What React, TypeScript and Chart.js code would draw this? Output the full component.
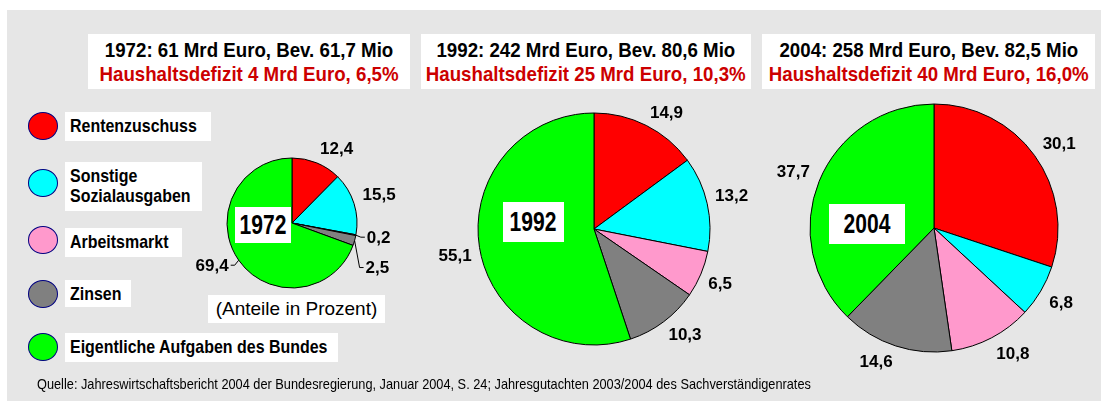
import React, { useEffect, useRef } from "react";
import { Chart, registerables } from "chart.js";

Chart.register(...registerables);

// ---------- data ----------
const categories = [
  "Rentenzuschuss",
  "Sonstige\nSozialausgaben",
  "Arbeitsmarkt",
  "Zinsen",
  "Eigentliche Aufgaben des Bundes",
];
const years = ["1972", "1992", "2004"];
const shares1972 = [12.4, 15.5, 0.2, 2.5, 69.4];
const shares1992 = [14.9, 13.2, 6.5, 10.3, 55.1];
const shares2004 = [30.1, 6.8, 10.8, 14.6, 37.7];
const titleLines = [
  "1972: 61 Mrd Euro, Bev. 61,7 Mio",
  "1992: 242 Mrd Euro, Bev. 80,6 Mio",
  "2004: 258 Mrd Euro, Bev. 82,5 Mio",
];
const deficitLines = [
  "Haushaltsdefizit 4 Mrd Euro, 6,5%",
  "Haushaltsdefizit 25 Mrd Euro, 10,3%",
  "Haushaltsdefizit 40 Mrd Euro, 16,0%",
];
const unitNote = "(Anteile in Prozent)";
const sourceNote =
  "Quelle: Jahreswirtschaftsbericht 2004 der Bundesregierung, Januar 2004, S. 24; Jahresgutachten 2003/2004 des Sachverständigenrates";

// ---------- styles / layout ----------
const sliceColors = ["#FF0000", "#00FFFF", "#FF99CC", "#808080", "#00FF00"];
const W = 1101;
const H = 401;
const SANS = '"Liberation Sans", Arial, sans-serif';

const pieLayout = [
  { cx: 292, cy: 223, r: 65, gap: 9, leaders: { 2: [5, 2], 3: [5, 27], 4: [-4, 5] } as Record<number, number[]>, box: { dx: -57, dy: -16, w: 56, h: 36 } },
  { cx: 594, cy: 229, r: 116, gap: 8, leaders: {} as Record<number, number[]>, box: { dx: -91, dy: -27, w: 61, h: 40 } },
  { cx: 934, cy: 228, r: 124, gap: 10, leaders: {} as Record<number, number[]>, box: { dx: -105, dy: -24, w: 76, h: 40 } },
];
const titleBoxes = [
  { left: 88, width: 322 },
  { left: 421, width: 330 },
  { left: 762, width: 333 },
];
const legendRows = [
  { cy: 126, boxTop: 112, boxH: 29, boxW: 146 },
  { cy: 183, boxTop: 162, boxH: 49, boxW: 137 },
  { cy: 240, boxTop: 228, boxH: 29, boxW: 117 },
  { cy: 294, boxTop: 280, boxH: 27, boxW: 66 },
  { cy: 347, boxTop: 333, boxH: 29, boxW: 273 },
];

const fmt = (v: number) => v.toFixed(1).replace(".", ",");

const valueLabelPlugin = {
  id: "valueLabels",
  afterDatasetsDraw(chart: any, _args: any, opts: any) {
    const ctx = chart.ctx as CanvasRenderingContext2D;
    const meta = chart.getDatasetMeta(0);
    const data = chart.data.datasets[0].data as number[];
    ctx.save();
    ctx.font = `bold 17px ${SANS}`;
    ctx.fillStyle = "#000";
    ctx.strokeStyle = "#000";
    ctx.lineWidth = 1;
    const capH = 12.5;
    meta.data.forEach((arc: any, i: number) => {
      const { x, y, startAngle, endAngle, outerRadius } = arc.getProps(
        ["x", "y", "startAngle", "endAngle", "outerRadius"],
        true
      );
      const mid = (startAngle + endAngle) / 2;
      const cos = Math.cos(mid);
      const sin = Math.sin(mid);
      const text = fmt(data[i]);
      const leader = opts.leaders ? opts.leaders[i] : undefined;
      if (leader) {
        const ex = x + outerRadius * cos;
        const ey = y + outerRadius * sin;
        const bx = ex + leader[0];
        const by = ey + leader[1];
        const dir = leader[0] >= 0 ? 1 : -1;
        ctx.beginPath();
        ctx.moveTo(ex, ey);
        ctx.lineTo(bx, by);
        ctx.lineTo(bx + dir * 4, by);
        ctx.stroke();
        ctx.textAlign = dir > 0 ? "left" : "right";
        ctx.textBaseline = "middle";
        ctx.fillText(text, bx + dir * 6, by + 1);
      } else {
        const d = outerRadius + opts.gap;
        const ax = x + d * cos;
        const ay = y + d * sin;
        ctx.textAlign = cos >= 0 ? "left" : "right";
        ctx.textBaseline = "middle";
        ctx.fillText(text, ax, ay + ((sin >= 0 ? 1 : -1) * capH) / 2 + 1);
      }
    });
    ctx.restore();
  },
};

function PieCanvas({ values, idx }: { values: number[]; idx: number }) {
  const ref = useRef<HTMLCanvasElement | null>(null);
  useEffect(() => {
    if (!ref.current) return;
    const L = pieLayout[idx];
    const side = 2 * L.r + 1;
    const chart = new Chart(ref.current, {
      type: "pie",
      data: {
        labels: categories,
        datasets: [
          {
            data: values,
            backgroundColor: sliceColors,
            borderColor: "#000000",
            borderWidth: 1,
          },
        ],
      },
      options: {
        responsive: false,
        animation: false,
        events: [],
        layout: {
          padding: {
            left: L.cx - side / 2,
            top: L.cy - side / 2,
            right: W - (L.cx + side / 2),
            bottom: H - (L.cy + side / 2),
          },
        },
        plugins: {
          legend: { display: false },
          tooltip: { enabled: false },
          valueLabels: { gap: L.gap, leaders: L.leaders },
        } as any,
      },
      plugins: [valueLabelPlugin],
    });
    return () => chart.destroy();
  }, [values, idx]);
  return (
    <canvas
      ref={ref}
      width={W}
      height={H}
      style={{ position: "absolute", left: 0, top: 0, width: W, height: H }}
    />
  );
}

// condensed text (no narrow font installed): horizontally squeezed span
function Narrow({ children, scale, origin }: { children: React.ReactNode; scale: number; origin: string }) {
  return (
    <span style={{ display: "inline-block", transform: `scaleX(${scale})`, transformOrigin: origin, whiteSpace: "pre", flex: "none" }}>
      {children}
    </span>
  );
}

const centerRow: React.CSSProperties = { display: "flex", justifyContent: "center", width: "100%" };

export default function App() {
  useEffect(() => {
    document.body.style.margin = "0";
  }, []);
  const allShares = [shares1972, shares1992, shares2004];
  return (
    <div style={{ position: "absolute", left: 0, top: 0, width: W, height: H, background: "#FFFFFF", overflow: "hidden" }}>
      <div style={{ position: "absolute", left: 7, top: 10, width: W - 7, height: H - 10, background: "#E6E6E6" }} />

      {titleBoxes.map((b, i) => (
        <div
          key={"t" + i}
          style={{
            position: "absolute",
            left: b.left,
            top: 34,
            width: b.width,
            height: 55,
            background: "#FFFFFF",
            fontFamily: SANS,
            fontWeight: "bold",
            fontSize: 21,
            lineHeight: "24px",
            paddingTop: 4,
            boxSizing: "border-box",
            whiteSpace: "nowrap",
          }}
        >
          <div style={{ ...centerRow, color: "#000000" }}>
            <Narrow scale={0.89} origin="center">{titleLines[i]}</Narrow>
          </div>
          <div style={{ ...centerRow, color: "#CC0000" }}>
            <Narrow scale={0.89} origin="center">{deficitLines[i]}</Narrow>
          </div>
        </div>
      ))}

      {categories.map((c, i) => {
        const row = legendRows[i];
        return (
          <React.Fragment key={"l" + i}>
            <div
              style={{
                position: "absolute",
                left: 28,
                top: row.cy - 14,
                width: 30,
                height: 28,
                borderRadius: "50%",
                background: sliceColors[i],
                border: "1.5px solid #000080",
                boxSizing: "border-box",
              }}
            />
            <div
              style={{
                position: "absolute",
                left: 65,
                top: row.boxTop,
                width: row.boxW,
                height: row.boxH,
                background: "#FFFFFF",
                fontFamily: SANS,
                fontWeight: "bold",
                fontSize: 19,
                lineHeight: "20px",
                padding: "4px 0 0 5px",
                boxSizing: "border-box",
                whiteSpace: "pre",
                color: "#000",
              }}
            >
              <Narrow scale={0.84} origin="left">{c}</Narrow>
            </div>
          </React.Fragment>
        );
      })}

      {years.map((y, i) => (
        <PieCanvas key={"p" + i} values={allShares[i]} idx={i} />
      ))}

      {years.map((y, i) => {
        const L = pieLayout[i];
        return (
          <div
            key={"y" + i}
            style={{
              ...centerRow,
              position: "absolute",
              left: L.cx + L.box.dx,
              top: L.cy + L.box.dy,
              width: L.box.w,
              height: L.box.h,
              background: "#FFFFFF",
              fontFamily: SANS,
              fontWeight: "bold",
              fontSize: 27,
              lineHeight: L.box.h + "px",
              color: "#000",
            }}
          >
            <Narrow scale={0.78} origin="center">{y}</Narrow>
          </div>
        );
      })}

      <div
        style={{
          position: "absolute",
          left: 208,
          top: 295,
          width: 177,
          height: 28,
          background: "#FFFFFF",
          fontFamily: SANS,
          fontSize: 19,
          lineHeight: "28px",
          textAlign: "center",
          color: "#000",
          whiteSpace: "nowrap",
        }}
      >
        {unitNote}
      </div>

      <div
        style={{
          position: "absolute",
          left: 37,
          top: 375,
          fontFamily: SANS,
          fontSize: 14.5,
          lineHeight: "18px",
          color: "#000",
          whiteSpace: "nowrap",
        }}
      >
        <Narrow scale={0.88} origin="left">{sourceNote}</Narrow>
      </div>
    </div>
  );
}
